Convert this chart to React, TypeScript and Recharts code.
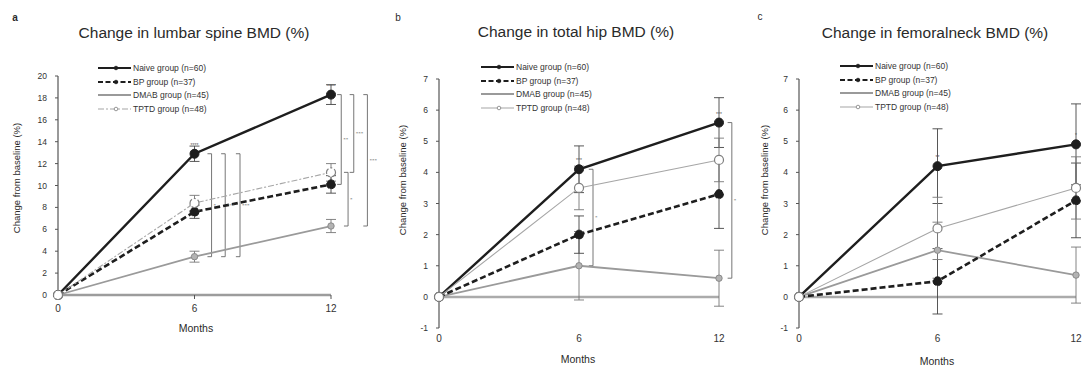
import React from 'react';
import { LineChart, Line, XAxis, YAxis, ErrorBar, ReferenceLine, LabelList } from 'recharts';

const FONT = '"Liberation Sans", Arial, Helvetica, sans-serif';

const months = [0, 6, 12];
const monthTicks = [0, 6, 12];
const groupNames = ['Naive group (n=60)', 'BP group (n=37)', 'DMAB group (n=45)', 'TPTD group (n=48)'];

// Lumbar spine: % change from baseline (mean, SE)
const spineNaive = [0, 12.9, 18.3];
const spineBP = [0, 7.6, 10.1];
const spineDMAB = [0, 3.5, 6.3];
const spineTPTD = [0, 8.4, 11.2];
const spineNaiveErr = [0, 0.7, 0.9];
const spineBPErr = [0, 0.6, 0.8];
const spineDMABErr = [0, 0.5, 0.6];
const spineTPTDErr = [0, 0.7, 0.8];
const spineNaiveSig = ['', '****', '****'];
const spineTicks = [0, 2, 4, 6, 8, 10, 12, 14, 16, 18, 20];

// Total hip
const hipNaive = [0, 4.1, 5.6];
const hipBP = [0, 2.0, 3.3];
const hipDMAB = [0, 1.0, 0.6];
const hipTPTD = [0, 3.5, 4.4];
const hipNaiveErr = [0, 0.75, 0.8];
const hipBPErr = [0, 0.6, 1.1];
const hipDMABErr = [0, 1.1, 0.9];
const hipTPTDErr = [0, 0.7, 0.7];
const hipNaiveSig = ['', '***', '***'];

// Femoral neck
const neckNaive = [0, 4.2, 4.9];
const neckBP = [0, 0.5, 3.1];
const neckDMAB = [0, 1.5, 0.7];
const neckTPTD = [0, 2.2, 3.5];
const neckNaiveErr = [0, 1.2, 1.3];
const neckBPErr = [0, 1.05, 1.2];
const neckDMABErr = [0, 0.9, 0.9];
const neckTPTDErr = [0, 1.0, 1.0];
const neckNaiveSig = ['', '**', '*'];
const hipNeckTicks = [-1, 0, 1, 2, 3, 4, 5, 6, 7];

type Key = 'naive' | 'bp' | 'dmab' | 'tptd';
type Row = Record<string, number | string>;

// Significance brackets between two groups at one visit
type Bracket = { x: number; from: Key; to: Key; at: number; label: string };

const spineBrackets: Bracket[] = [
  { x: 6.75, from: 'naive', to: 'dmab', at: 1, label: '*' },
  { x: 7.35, from: 'naive', to: 'dmab', at: 1, label: '***' },
  { x: 8.0, from: 'naive', to: 'dmab', at: 1, label: '***' },
  { x: 12.45, from: 'naive', to: 'bp', at: 2, label: '**' },
  { x: 12.75, from: 'tptd', to: 'dmab', at: 2, label: '*' },
  { x: 13.0, from: 'naive', to: 'tptd', at: 2, label: '***' },
  { x: 13.6, from: 'naive', to: 'dmab', at: 2, label: '***' },
];
const hipBrackets: Bracket[] = [
  { x: 6.6, from: 'naive', to: 'dmab', at: 1, label: '*' },
  { x: 12.55, from: 'naive', to: 'dmab', at: 2, label: '*' },
];
const neckBrackets: Bracket[] = [];

function buildRows(v: number[][], e: number[][], sig: string[]): Row[] {
  return months.map((m, i) => ({
    month: m,
    naive: v[0][i],
    bp: v[1][i],
    dmab: v[2][i],
    tptd: v[3][i],
    naiveErr: e[0][i],
    bpErr: e[1][i],
    dmabErr: e[2][i],
    tptdErr: e[3][i],
    naiveSig: sig[i],
  }));
}

const spineRows = buildRows(
  [spineNaive, spineBP, spineDMAB, spineTPTD],
  [spineNaiveErr, spineBPErr, spineDMABErr, spineTPTDErr],
  spineNaiveSig
);
const hipRows = buildRows(
  [hipNaive, hipBP, hipDMAB, hipTPTD],
  [hipNaiveErr, hipBPErr, hipDMABErr, hipTPTDErr],
  hipNaiveSig
);
const neckRows = buildRows(
  [neckNaive, neckBP, neckDMAB, neckTPTD],
  [neckNaiveErr, neckBPErr, neckDMABErr, neckTPTDErr],
  neckNaiveSig
);

const STYLE: Record<Key, { stroke: string; width: number; dot: any; err: string }> = {
  naive: { stroke: '#1e1e1e', width: 2.4, dot: { r: 4.5, fill: '#1e1e1e', stroke: '#1e1e1e', strokeWidth: 1 }, err: '#444' },
  bp: { stroke: '#1e1e1e', width: 2.6, dot: { r: 4.5, fill: '#1e1e1e', stroke: '#1e1e1e', strokeWidth: 1 }, err: '#444' },
  dmab: { stroke: '#9a9a9a', width: 1.8, dot: { r: 3.2, fill: '#b3b3b3', stroke: '#8a8a8a', strokeWidth: 1 }, err: '#777' },
  tptd: { stroke: '#a6a6a6', width: 1.1, dot: { r: 4.5, fill: '#ffffff', stroke: '#7f7f7f', strokeWidth: 1.2 }, err: '#777' },
};
const DRAW_ORDER: Key[] = ['dmab', 'bp', 'naive', 'tptd'];
const LEGEND_ORDER: Key[] = ['naive', 'bp', 'dmab', 'tptd'];

function renderBrackets(rows: Row[], brackets: Bracket[]) {
  const out: React.ReactNode[] = [];
  brackets.forEach((b, i) => {
    const y1 = rows[b.at][b.from] as number;
    const y2 = rows[b.at][b.to] as number;
    const common = { stroke: '#666', strokeWidth: 0.9, ifOverflow: 'visible' as const };
    out.push(
      <ReferenceLine
        key={`v${i}`}
        {...common}
        segment={[{ x: b.x, y: y1 }, { x: b.x, y: y2 }]}
        label={{ value: b.label, position: 'right', offset: 2, fontSize: 5, fill: '#555' }}
      />
    );
    out.push(<ReferenceLine key={`t${i}`} {...common} segment={[{ x: b.x - 0.18, y: y1 }, { x: b.x, y: y1 }]} />);
    out.push(<ReferenceLine key={`b${i}`} {...common} segment={[{ x: b.x - 0.18, y: y2 }, { x: b.x, y: y2 }]} />);
  });
  return out;
}

type PanelProps = {
  left: number;
  width: number;
  margin: { top: number; right: number; bottom: number; left: number };
  rows: Row[];
  domain: [number, number];
  ticks: number[];
  brackets: Bracket[];
  axisAtZero: boolean;
  tptdDash?: string;
};

function Panel({ left, width, margin, rows, domain, ticks, brackets, axisAtZero, tptdDash }: PanelProps) {
  return (
    <div style={{ position: 'absolute', left, top: 0 }}>
      <LineChart width={width} height={366} data={rows} margin={margin}>
        <XAxis
          dataKey="month"
          type="number"
          domain={[0, 12]}
          ticks={monthTicks}
          height={axisAtZero ? 20 : 16}
          axisLine={axisAtZero ? { stroke: '#9c9c9c', strokeWidth: 2.5 } : false}
          tickLine={axisAtZero ? { stroke: '#555' } : false}
          tickSize={4}
          tickMargin={axisAtZero ? 6 : 3}
          tick={{ fontSize: 10, fill: '#333', fontFamily: FONT }}
        />
        <YAxis
          type="number"
          domain={domain}
          ticks={ticks}
          interval={0}
          width={axisAtZero ? 18 : 20}
          axisLine={{ stroke: '#555', strokeWidth: 1.2 }}
          tickLine={{ stroke: '#555' }}
          tickSize={3}
          tickMargin={8}
          tick={{ fontSize: 8.5, fill: '#333', fontFamily: FONT }}
        />
        {!axisAtZero && <ReferenceLine y={0} stroke="#ababab" strokeWidth={2.5} />}
        {renderBrackets(rows, brackets)}
        {DRAW_ORDER.map((k) => (
          <Line
            key={k}
            dataKey={k}
            type="linear"
            stroke={STYLE[k].stroke}
            strokeWidth={STYLE[k].width}
            strokeDasharray={k === 'bp' ? '6 3' : k === 'tptd' ? tptdDash : undefined}
            dot={STYLE[k].dot}
            activeDot={false}
            isAnimationActive={false}
          >
            <ErrorBar dataKey={`${k}Err`} width={5} stroke={STYLE[k].err} strokeWidth={0.9} direction="y" />
            {k === 'naive' && (
              <LabelList dataKey="naiveSig" position="top" offset={7} style={{ fontSize: 5, fill: '#555', fontFamily: FONT }} />
            )}
          </Line>
        ))}
      </LineChart>
    </div>
  );
}

function Txt({ x, y, size, rotate, bold, children }: { x: number; y: number; size: number; rotate?: boolean; bold?: boolean; children: React.ReactNode }) {
  return (
    <div
      style={{
        position: 'absolute',
        left: x,
        top: y,
        transform: `translate(-50%, -50%)${rotate ? ' rotate(-90deg)' : ''}`,
        fontSize: size,
        fontFamily: FONT,
        fontWeight: bold ? 700 : 400,
        color: '#2a2a2a',
        whiteSpace: 'nowrap',
        lineHeight: 1,
      }}
    >
      {children}
    </div>
  );
}

function GroupLegend({ x, y, tptdDash }: { x: number; y: number; tptdDash?: string }) {
  return (
    <div style={{ position: 'absolute', left: x, top: y }}>
      {LEGEND_ORDER.map((k, i) => {
        const s = STYLE[k];
        const dash = k === 'bp' ? '5 2.5' : k === 'tptd' ? tptdDash : undefined;
        return (
          <div key={k} style={{ position: 'absolute', left: 0, top: i * 13.5 - 5, display: 'flex', alignItems: 'center', height: 10 }}>
            <svg width={33} height={10} style={{ display: 'block' }}>
              <line x1={0} y1={5} x2={33} y2={5} stroke={s.stroke} strokeWidth={Math.min(s.width, 2.2)} strokeDasharray={dash} />
              {k !== 'dmab' && (
                <circle cx={18} cy={5} r={1.8} fill={k === 'tptd' ? '#fff' : s.stroke} stroke={k === 'tptd' ? '#7f7f7f' : s.stroke} strokeWidth={0.8} />
              )}
            </svg>
            <span style={{ fontSize: 8.5, fontFamily: FONT, color: '#333', marginLeft: 2, whiteSpace: 'nowrap' }}>
              {groupNames[LEGEND_ORDER.indexOf(k)]}
            </span>
          </div>
        );
      })}
    </div>
  );
}

export default function App() {
  return (
    <div style={{ position: 'fixed', left: 0, top: 0, width: 1083, height: 366, background: '#fff', overflow: 'hidden' }}>
      <Panel
        left={0}
        width={385}
        margin={{ top: 76, right: 54, bottom: 51, left: 40 }}
        rows={spineRows}
        domain={[0, 20]}
        ticks={spineTicks}
        brackets={spineBrackets}
        axisAtZero
        tptdDash="6 2 2 2"
      />
      <Panel
        left={360}
        width={380}
        margin={{ top: 79, right: 21, bottom: 22, left: 59 }}
        rows={hipRows}
        domain={[-1, 7]}
        ticks={hipNeckTicks}
        brackets={hipBrackets}
        axisAtZero={false}
      />
      <Panel
        left={720}
        width={363}
        margin={{ top: 79, right: 7, bottom: 22, left: 59 }}
        rows={neckRows}
        domain={[-1, 7]}
        ticks={hipNeckTicks}
        brackets={neckBrackets}
        axisAtZero={false}
      />

      <Txt x={15} y={18} size={10} bold>a</Txt>
      <Txt x={398} y={18} size={10}>b</Txt>
      <Txt x={760} y={17} size={10}>c</Txt>

      <Txt x={194} y={33} size={15.5}>Change in lumbar spine BMD (%)</Txt>
      <Txt x={576} y={32} size={15.5}>Change in total hip BMD (%)</Txt>
      <Txt x={935} y={33} size={15.5}>Change in femoralneck BMD (%)</Txt>

      <Txt x={17} y={178} size={9.5} rotate>Change from baseline (%)</Txt>
      <Txt x={403} y={180} size={9.5} rotate>Change from baseline (%)</Txt>
      <Txt x={765} y={180} size={9.5} rotate>Change from baseline (%)</Txt>

      <Txt x={196} y={328} size={10.5}>Months</Txt>
      <Txt x={578} y={359} size={10.5}>Months</Txt>
      <Txt x={937} y={361} size={10.5}>Months</Txt>

      <GroupLegend x={98} y={68} tptdDash="6 2 2 2" />
      <GroupLegend x={481} y={67} />
      <GroupLegend x={840} y={66} />
    </div>
  );
}
